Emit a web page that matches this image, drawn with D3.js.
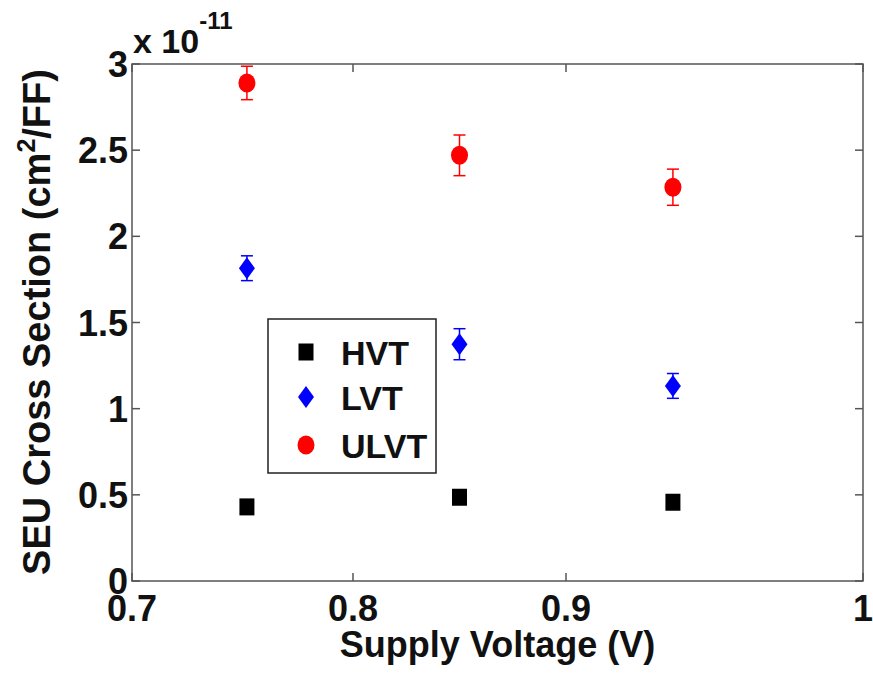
<!DOCTYPE html>
<html lang="en">
<head>
<meta charset="utf-8">
<title>SEU Cross Section vs Supply Voltage</title>
<script src="https://d3js.org/d3.v7.min.js"></script>
<style>
  body { margin: 0; background: #fff; }
  text { font-family: Arial, "Liberation Sans", sans-serif; font-weight: bold; fill: #111; }
</style>
</head>
<body>
<svg id="chart" width="873" height="679"></svg>
<script>
// data (y in units of 1e-11 cm^2/FF)
const voltages = [0.752, 0.85, 0.936];
const hvt   = [0.43, 0.486, 0.457];
const lvt   = [1.815, 1.374, 1.132];
const lvtErr = [0.072, 0.09, 0.072];
const ulvt  = [2.89, 2.47, 2.285];
const ulvtErr = [0.097, 0.118, 0.105];
const xTicks = [0.7, 0.8, 0.9, 1];
const yTicks = [0, 0.5, 1, 1.5, 2, 2.5, 3];

let svg = d3.select("#chart");
let pLeft = 132, pRight = 863, pTop = 64, pBottom = 581;

// the axis in the picture is not evenly spaced, so use a piecewise scale
let x = d3.scaleLinear().domain(xTicks).range([pLeft, 353, 566, pRight]);
let y = d3.scaleLinear().domain([0, 3]).range([pBottom, pTop]);

let axisColor = "#555";

// box
svg.append("rect")
  .attr("x", pLeft).attr("y", pTop)
  .attr("width", pRight - pLeft).attr("height", pBottom - pTop)
  .attr("fill", "none").attr("stroke", axisColor).attr("stroke-width", 1.5);

// inward ticks on all four sides
let tk = 8;
xTicks.forEach(t => {
  svg.append("line").attr("x1", x(t)).attr("x2", x(t)).attr("y1", pBottom).attr("y2", pBottom - tk)
    .attr("stroke", axisColor).attr("stroke-width", 1.5);
  svg.append("line").attr("x1", x(t)).attr("x2", x(t)).attr("y1", pTop).attr("y2", pTop + tk)
    .attr("stroke", axisColor).attr("stroke-width", 1.5);
  svg.append("text").attr("x", x(t)).attr("y", 621)
    .attr("text-anchor", "middle").style("font-size", "36px").text(t);
});
yTicks.forEach(t => {
  svg.append("line").attr("x1", pLeft).attr("x2", pLeft + tk).attr("y1", y(t)).attr("y2", y(t))
    .attr("stroke", axisColor).attr("stroke-width", 1.5);
  svg.append("line").attr("x1", pRight).attr("x2", pRight - tk).attr("y1", y(t)).attr("y2", y(t))
    .attr("stroke", axisColor).attr("stroke-width", 1.5);
  svg.append("text").attr("x", 128).attr("y", y(t) + 13)
    .attr("text-anchor", "end").style("font-size", "36px").text(t);
});

// exponent label
let ex = svg.append("text").attr("x", 133).attr("y", 53).style("font-size", "34px");
ex.append("tspan").text("x 10");
ex.append("tspan").attr("dy", -24).style("font-size", "24px").text("-11");

// axis titles
svg.append("text").attr("x", (pLeft + pRight) / 2).attr("y", 657)
  .attr("text-anchor", "middle").style("font-size", "36px").text("Supply Voltage (V)");

let yt = svg.append("text")
  .attr("transform", "translate(50," + 322 + ") rotate(-90)")
  .attr("text-anchor", "middle").style("font-size", "38px");
yt.append("tspan").text("SEU Cross Section (cm");
yt.append("tspan").attr("dy", -15).style("font-size", "25px").text("2");
yt.append("tspan").attr("dy", 15).text("/FF)");

// error bars
function errorBars(vals, errs, color) {
  let g = svg.append("g").attr("stroke", color).attr("stroke-width", 1.5);
  vals.forEach((v, i) => {
    let cx = x(voltages[i]);
    g.append("line").attr("x1", cx).attr("x2", cx).attr("y1", y(v - errs[i])).attr("y2", y(v + errs[i]));
    g.append("line").attr("x1", cx - 6).attr("x2", cx + 6).attr("y1", y(v - errs[i])).attr("y2", y(v - errs[i]));
    g.append("line").attr("x1", cx - 6).attr("x2", cx + 6).attr("y1", y(v + errs[i])).attr("y2", y(v + errs[i]));
  });
}
errorBars(ulvt, ulvtErr, "#ff0000");
errorBars(lvt, lvtErr, "#0000ff");

// marker shapes
function square(g, cx, cy) {
  g.append("rect").attr("x", cx - 7.5).attr("y", cy - 8.5).attr("width", 15).attr("height", 17).attr("fill", "#000");
}
function diamond(g, cx, cy) {
  g.append("path").attr("d", `M${cx},${cy - 11}L${cx + 8},${cy}L${cx},${cy + 11}L${cx - 8},${cy}Z`).attr("fill", "#0000ff");
}
function circle(g, cx, cy) {
  g.append("ellipse").attr("cx", cx).attr("cy", cy).attr("rx", 8.5).attr("ry", 9.5).attr("fill", "#ff0000");
}

let marks = svg.append("g");
hvt.forEach((v, i) => square(marks, x(voltages[i]), y(v)));
lvt.forEach((v, i) => diamond(marks, x(voltages[i]), y(v)));
ulvt.forEach((v, i) => circle(marks, x(voltages[i]), y(v)));

// legend
let leg = svg.append("g");
leg.append("rect").attr("x", 268).attr("y", 319).attr("width", 168).attr("height", 154)
  .attr("fill", "#fff").attr("stroke", "#222").attr("stroke-width", 1.5);
let items = [["HVT", square, 352], ["LVT", diamond, 397], ["ULVT", circle, 445]];
items.forEach(d => {
  d[1](leg, 306, d[2]);
  leg.append("text").attr("x", 341).attr("y", d[2] + 13).style("font-size", "34px").text(d[0]);
});
</script>
</body>
</html>
